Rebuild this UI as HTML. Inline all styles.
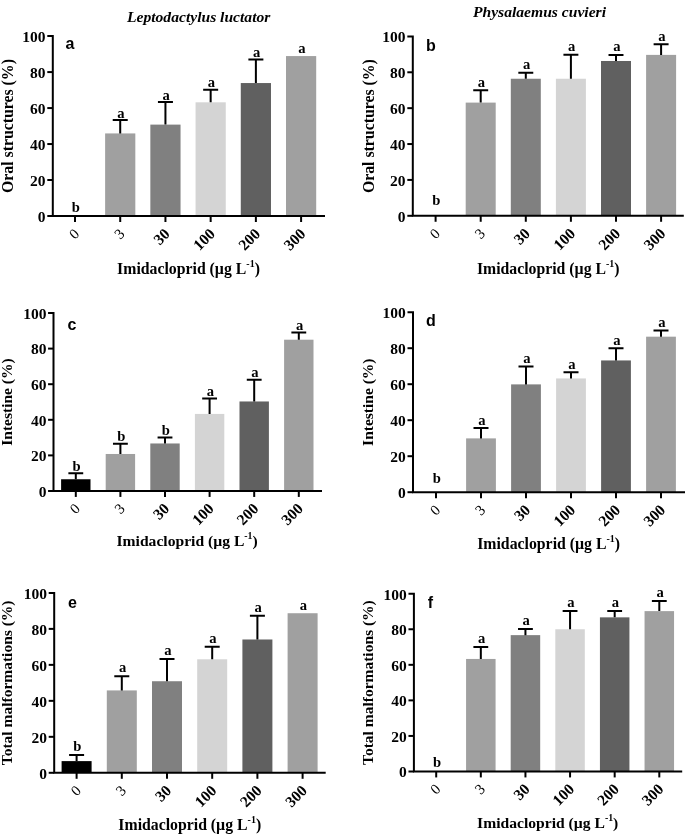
<!DOCTYPE html>
<html><head><meta charset="utf-8"><style>
html,body{margin:0;padding:0;background:#fff;}
svg{display:block;will-change:transform;filter:blur(0.35px);}
.tl{font-family:'Liberation Serif', serif;font-weight:bold;font-size:15.5px;}
.tr{font-family:'Liberation Serif', serif;font-weight:normal;font-size:14.8px;}
.sl{font-family:'Liberation Serif', serif;font-weight:bold;font-size:14.6px;}
.ti{font-family:'Liberation Serif', serif;font-weight:bold;font-style:italic;font-size:15.6px;}
.pl{font-family:'Liberation Sans', sans-serif;font-weight:bold;font-size:16px;}
</style></head><body>
<svg width="685" height="835" viewBox="0 0 685 835">
<rect width="685" height="835" fill="#fff"/>
<text x="127" y="21.8" class="ti">Leptodactylus luctator</text>
<text x="473" y="16.7" class="ti">Physalaemus cuvieri</text>
<text x="75.8" y="211.5" text-anchor="middle" class="sl">b</text>
<path d="M75 216V222" stroke="#000" stroke-width="2"/>
<text x="80.3" y="234.69" text-anchor="end" class="tr" transform="rotate(-45 80.3 234.69)">0</text>
<rect x="105.12" y="133.43" width="30.2" height="82.57" fill="#a0a0a0"/>
<path d="M120.22 133.43V119.93M112.72 119.93H127.72" stroke="#000" stroke-width="2" fill="none"/>
<text x="121.02" y="117.63" text-anchor="middle" class="sl">a</text>
<path d="M120.22 216V222" stroke="#000" stroke-width="2"/>
<text x="125.52" y="234.69" text-anchor="end" class="tr" transform="rotate(-45 125.52 234.69)">3</text>
<rect x="150.34" y="124.61" width="30.2" height="91.39" fill="#808080"/>
<path d="M165.44 124.61V102.12M157.94 102.12H172.94" stroke="#000" stroke-width="2" fill="none"/>
<text x="166.24" y="99.82" text-anchor="middle" class="sl">a</text>
<path d="M165.44 216V222" stroke="#000" stroke-width="2"/>
<text x="170.74" y="234.69" text-anchor="end" class="tl" transform="rotate(-45 170.74 234.69)">30</text>
<rect x="195.56" y="102.3" width="30.2" height="113.7" fill="#d4d4d4"/>
<path d="M210.66 102.3V89.71M203.16 89.71H218.16" stroke="#000" stroke-width="2" fill="none"/>
<text x="211.46" y="87.41" text-anchor="middle" class="sl">a</text>
<path d="M210.66 216V222" stroke="#000" stroke-width="2"/>
<text x="215.96" y="234.69" text-anchor="end" class="tl" transform="rotate(-45 215.96 234.69)">100</text>
<rect x="240.78" y="83.05" width="30.2" height="132.95" fill="#606060"/>
<path d="M255.88 83.05V59.49M248.38 59.49H263.38" stroke="#000" stroke-width="2" fill="none"/>
<text x="256.68" y="57.19" text-anchor="middle" class="sl">a</text>
<path d="M255.88 216V222" stroke="#000" stroke-width="2"/>
<text x="261.18" y="234.69" text-anchor="end" class="tl" transform="rotate(-45 261.18 234.69)">200</text>
<rect x="286" y="56.07" width="30.2" height="159.93" fill="#a0a0a0"/>
<text x="301.9" y="52.57" text-anchor="middle" class="sl">a</text>
<path d="M301.1 216V222" stroke="#000" stroke-width="2"/>
<text x="306.4" y="234.69" text-anchor="end" class="tl" transform="rotate(-45 306.4 234.69)">300</text>
<path d="M47.3 36.1H52.8V216H325" stroke="#000" stroke-width="2" fill="none" stroke-linejoin="miter"/>
<path d="M47.3 216H52.8" stroke="#000" stroke-width="2"/>
<text x="45.6" y="221.8" text-anchor="end" class="tl">0</text>
<path d="M47.3 180.02H52.8" stroke="#000" stroke-width="2"/>
<text x="45.6" y="185.82" text-anchor="end" class="tl">20</text>
<path d="M47.3 144.04H52.8" stroke="#000" stroke-width="2"/>
<text x="45.6" y="149.84" text-anchor="end" class="tl">40</text>
<path d="M47.3 108.06H52.8" stroke="#000" stroke-width="2"/>
<text x="45.6" y="113.86" text-anchor="end" class="tl">60</text>
<path d="M47.3 72.08H52.8" stroke="#000" stroke-width="2"/>
<text x="45.6" y="77.88" text-anchor="end" class="tl">80</text>
<text x="45.6" y="41.9" text-anchor="end" class="tl">100</text>
<text x="13.5" y="126.05" text-anchor="middle" class="tl" style="font-size:15.8px" transform="rotate(-90 13.5 126.05)">Oral structures (%)</text>
<text x="188.5" y="273.7" text-anchor="middle" class="tl" style="font-size:15.79px">Imidacloprid (µg L<tspan dy="-7" font-size="9.99">-1</tspan><tspan dy="7">)</tspan></text>
<text x="65.5" y="48.7" class="pl">a</text>
<text x="436.4" y="205.1" text-anchor="middle" class="sl">b</text>
<path d="M435.6 215.8V221.78" stroke="#000" stroke-width="2"/>
<text x="440.88" y="234.44" text-anchor="end" class="tr" transform="rotate(-45 440.88 234.44)">0</text>
<rect x="465.7" y="102.6" width="30" height="113.2" fill="#a0a0a0"/>
<path d="M480.7 102.6V90.22M473.23 90.22H488.18" stroke="#000" stroke-width="2" fill="none"/>
<text x="481.5" y="86.72" text-anchor="middle" class="sl">a</text>
<path d="M480.7 215.8V221.78" stroke="#000" stroke-width="2"/>
<text x="485.98" y="234.44" text-anchor="end" class="tr" transform="rotate(-45 485.98 234.44)">3</text>
<rect x="510.8" y="78.74" width="30" height="137.06" fill="#808080"/>
<path d="M525.8 78.74V72.64M518.33 72.64H533.28" stroke="#000" stroke-width="2" fill="none"/>
<text x="526.6" y="69.14" text-anchor="middle" class="sl">a</text>
<path d="M525.8 215.8V221.78" stroke="#000" stroke-width="2"/>
<text x="531.08" y="234.44" text-anchor="end" class="tl" transform="rotate(-45 531.08 234.44)">30</text>
<rect x="555.9" y="78.74" width="30" height="137.06" fill="#d4d4d4"/>
<path d="M570.9 78.74V54.7M563.43 54.7H578.38" stroke="#000" stroke-width="2" fill="none"/>
<text x="571.7" y="51.2" text-anchor="middle" class="sl">a</text>
<path d="M570.9 215.8V221.78" stroke="#000" stroke-width="2"/>
<text x="576.18" y="234.44" text-anchor="end" class="tl" transform="rotate(-45 576.18 234.44)">100</text>
<rect x="601" y="60.98" width="30" height="154.82" fill="#606060"/>
<path d="M616 60.98V54.88M608.52 54.88H623.48" stroke="#000" stroke-width="2" fill="none"/>
<text x="616.8" y="51.38" text-anchor="middle" class="sl">a</text>
<path d="M616 215.8V221.78" stroke="#000" stroke-width="2"/>
<text x="621.28" y="234.44" text-anchor="end" class="tl" transform="rotate(-45 621.28 234.44)">200</text>
<rect x="646.1" y="54.88" width="30" height="160.92" fill="#a0a0a0"/>
<path d="M661.1 54.88V44.29M653.62 44.29H668.58" stroke="#000" stroke-width="2" fill="none"/>
<text x="661.9" y="40.79" text-anchor="middle" class="sl">a</text>
<path d="M661.1 215.8V221.78" stroke="#000" stroke-width="2"/>
<text x="666.38" y="234.44" text-anchor="end" class="tl" transform="rotate(-45 666.38 234.44)">300</text>
<path d="M407.32 36.4H412.8V215.8H683.8" stroke="#000" stroke-width="2" fill="none" stroke-linejoin="miter"/>
<path d="M407.32 215.8H412.8" stroke="#000" stroke-width="2"/>
<text x="405.62" y="221.6" text-anchor="end" class="tl">0</text>
<path d="M407.32 179.92H412.8" stroke="#000" stroke-width="2"/>
<text x="405.62" y="185.72" text-anchor="end" class="tl">20</text>
<path d="M407.32 144.04H412.8" stroke="#000" stroke-width="2"/>
<text x="405.62" y="149.84" text-anchor="end" class="tl">40</text>
<path d="M407.32 108.16H412.8" stroke="#000" stroke-width="2"/>
<text x="405.62" y="113.96" text-anchor="end" class="tl">60</text>
<path d="M407.32 72.28H412.8" stroke="#000" stroke-width="2"/>
<text x="405.62" y="78.08" text-anchor="end" class="tl">80</text>
<text x="405.62" y="42.2" text-anchor="end" class="tl">100</text>
<text x="373.8" y="126.1" text-anchor="middle" class="tl" style="font-size:15.8px" transform="rotate(-90 373.8 126.1)">Oral structures (%)</text>
<text x="548.25" y="274.3" text-anchor="middle" class="tl" style="font-size:15.75px">Imidacloprid (µg L<tspan dy="-7" font-size="9.97">-1</tspan><tspan dy="7">)</tspan></text>
<text x="426.1" y="51.4" class="pl">b</text>
<rect x="61.1" y="479.25" width="29.4" height="11.75" fill="#000000"/>
<path d="M75.8 479.25V473.2M68.38 473.2H83.22" stroke="#000" stroke-width="2" fill="none"/>
<text x="76.6" y="470.7" text-anchor="middle" class="sl">b</text>
<path d="M75.8 491V496.93" stroke="#000" stroke-width="2"/>
<text x="81.04" y="509.49" text-anchor="end" class="tr" transform="rotate(-45 81.04 509.49)">0</text>
<rect x="105.7" y="453.98" width="29.4" height="37.02" fill="#a0a0a0"/>
<path d="M120.4 453.98V443.83M112.98 443.83H127.82" stroke="#000" stroke-width="2" fill="none"/>
<text x="121.2" y="441.33" text-anchor="middle" class="sl">b</text>
<path d="M120.4 491V496.93" stroke="#000" stroke-width="2"/>
<text x="125.64" y="509.49" text-anchor="end" class="tr" transform="rotate(-45 125.64 509.49)">3</text>
<rect x="150.3" y="443.47" width="29.4" height="47.53" fill="#808080"/>
<path d="M165 443.47V437.6M157.58 437.6H172.42" stroke="#000" stroke-width="2" fill="none"/>
<text x="165.8" y="435.1" text-anchor="middle" class="sl">b</text>
<path d="M165 491V496.93" stroke="#000" stroke-width="2"/>
<text x="170.24" y="509.49" text-anchor="end" class="tl" transform="rotate(-45 170.24 509.49)">30</text>
<rect x="194.9" y="413.93" width="29.4" height="77.07" fill="#d4d4d4"/>
<path d="M209.6 413.93V398.44M202.18 398.44H217.02" stroke="#000" stroke-width="2" fill="none"/>
<text x="210.4" y="395.94" text-anchor="middle" class="sl">a</text>
<path d="M209.6 491V496.93" stroke="#000" stroke-width="2"/>
<text x="214.84" y="509.49" text-anchor="end" class="tl" transform="rotate(-45 214.84 509.49)">100</text>
<rect x="239.5" y="401.47" width="29.4" height="89.53" fill="#606060"/>
<path d="M254.2 401.47V379.75M246.78 379.75H261.62" stroke="#000" stroke-width="2" fill="none"/>
<text x="255" y="377.25" text-anchor="middle" class="sl">a</text>
<path d="M254.2 491V496.93" stroke="#000" stroke-width="2"/>
<text x="259.44" y="509.49" text-anchor="end" class="tl" transform="rotate(-45 259.44 509.49)">200</text>
<rect x="284.1" y="339.7" width="29.4" height="151.3" fill="#a0a0a0"/>
<path d="M298.8 339.7V332.58M291.38 332.58H306.22" stroke="#000" stroke-width="2" fill="none"/>
<text x="299.6" y="330.08" text-anchor="middle" class="sl">a</text>
<path d="M298.8 491V496.93" stroke="#000" stroke-width="2"/>
<text x="304.04" y="509.49" text-anchor="end" class="tl" transform="rotate(-45 304.04 509.49)">300</text>
<path d="M48.06 313H53.5V491H322" stroke="#000" stroke-width="2" fill="none" stroke-linejoin="miter"/>
<path d="M48.06 491H53.5" stroke="#000" stroke-width="2"/>
<text x="46.38" y="496.8" text-anchor="end" class="tl">0</text>
<path d="M48.06 455.4H53.5" stroke="#000" stroke-width="2"/>
<text x="46.38" y="461.2" text-anchor="end" class="tl">20</text>
<path d="M48.06 419.8H53.5" stroke="#000" stroke-width="2"/>
<text x="46.38" y="425.6" text-anchor="end" class="tl">40</text>
<path d="M48.06 384.2H53.5" stroke="#000" stroke-width="2"/>
<text x="46.38" y="390" text-anchor="end" class="tl">60</text>
<path d="M48.06 348.6H53.5" stroke="#000" stroke-width="2"/>
<text x="46.38" y="354.4" text-anchor="end" class="tl">80</text>
<text x="46.38" y="318.8" text-anchor="end" class="tl">100</text>
<text x="12.4" y="402" text-anchor="middle" class="tl" style="font-size:15.5px" transform="rotate(-90 12.4 402)">Intestine (%)</text>
<text x="187.15" y="545.5" text-anchor="middle" class="tl" style="font-size:15.62px">Imidacloprid (µg L<tspan dy="-7" font-size="9.89">-1</tspan><tspan dy="7">)</tspan></text>
<text x="67.5" y="329.65" class="pl">c</text>
<text x="436.8" y="483.3" text-anchor="middle" class="sl">b</text>
<path d="M436 492.2V498.2" stroke="#000" stroke-width="2"/>
<text x="441.3" y="510.9" text-anchor="end" class="tr" transform="rotate(-45 441.3 510.9)">0</text>
<rect x="466.1" y="438.38" width="29.8" height="53.82" fill="#a0a0a0"/>
<path d="M481 438.38V427.94M473.5 427.94H488.5" stroke="#000" stroke-width="2" fill="none"/>
<text x="481.8" y="424.84" text-anchor="middle" class="sl">a</text>
<path d="M481 492.2V498.2" stroke="#000" stroke-width="2"/>
<text x="486.3" y="510.9" text-anchor="end" class="tr" transform="rotate(-45 486.3 510.9)">3</text>
<rect x="511.1" y="384.38" width="29.8" height="107.82" fill="#808080"/>
<path d="M526 384.38V366.38M518.5 366.38H533.5" stroke="#000" stroke-width="2" fill="none"/>
<text x="526.8" y="363.28" text-anchor="middle" class="sl">a</text>
<path d="M526 492.2V498.2" stroke="#000" stroke-width="2"/>
<text x="531.3" y="510.9" text-anchor="end" class="tl" transform="rotate(-45 531.3 510.9)">30</text>
<rect x="556.1" y="378.44" width="29.8" height="113.76" fill="#d4d4d4"/>
<path d="M571 378.44V372.32M563.5 372.32H578.5" stroke="#000" stroke-width="2" fill="none"/>
<text x="571.8" y="369.22" text-anchor="middle" class="sl">a</text>
<path d="M571 492.2V498.2" stroke="#000" stroke-width="2"/>
<text x="576.3" y="510.9" text-anchor="end" class="tl" transform="rotate(-45 576.3 510.9)">100</text>
<rect x="601.1" y="360.44" width="29.8" height="131.76" fill="#606060"/>
<path d="M616 360.44V348.2M608.5 348.2H623.5" stroke="#000" stroke-width="2" fill="none"/>
<text x="616.8" y="345.1" text-anchor="middle" class="sl">a</text>
<path d="M616 492.2V498.2" stroke="#000" stroke-width="2"/>
<text x="621.3" y="510.9" text-anchor="end" class="tl" transform="rotate(-45 621.3 510.9)">200</text>
<rect x="646.1" y="336.68" width="29.8" height="155.52" fill="#a0a0a0"/>
<path d="M661 336.68V330.38M653.5 330.38H668.5" stroke="#000" stroke-width="2" fill="none"/>
<text x="661.8" y="327.28" text-anchor="middle" class="sl">a</text>
<path d="M661 492.2V498.2" stroke="#000" stroke-width="2"/>
<text x="666.3" y="510.9" text-anchor="end" class="tl" transform="rotate(-45 666.3 510.9)">300</text>
<path d="M407.5 312.2H413V492.2H685" stroke="#000" stroke-width="2" fill="none" stroke-linejoin="miter"/>
<path d="M407.5 492.2H413" stroke="#000" stroke-width="2"/>
<text x="405.8" y="498" text-anchor="end" class="tl">0</text>
<path d="M407.5 456.2H413" stroke="#000" stroke-width="2"/>
<text x="405.8" y="462" text-anchor="end" class="tl">20</text>
<path d="M407.5 420.2H413" stroke="#000" stroke-width="2"/>
<text x="405.8" y="426" text-anchor="end" class="tl">40</text>
<path d="M407.5 384.2H413" stroke="#000" stroke-width="2"/>
<text x="405.8" y="390" text-anchor="end" class="tl">60</text>
<path d="M407.5 348.2H413" stroke="#000" stroke-width="2"/>
<text x="405.8" y="354" text-anchor="end" class="tl">80</text>
<text x="405.8" y="318" text-anchor="end" class="tl">100</text>
<text x="373.5" y="402.2" text-anchor="middle" class="tl" style="font-size:15.5px" transform="rotate(-90 373.5 402.2)">Intestine (%)</text>
<text x="548.65" y="548.7" text-anchor="middle" class="tl" style="font-size:15.8px">Imidacloprid (µg L<tspan dy="-7" font-size="10">-1</tspan><tspan dy="7">)</tspan></text>
<text x="425.95" y="325.9" class="pl">d</text>
<rect x="61.6" y="761.11" width="30" height="11.69" fill="#000000"/>
<path d="M76.6 761.11V754.99M69.1 754.99H84.1" stroke="#000" stroke-width="2" fill="none"/>
<text x="77.4" y="751.29" text-anchor="middle" class="sl">b</text>
<path d="M76.6 772.8V778.8" stroke="#000" stroke-width="2"/>
<text x="81.9" y="791.49" text-anchor="end" class="tr" transform="rotate(-45 81.9 791.49)">0</text>
<rect x="106.8" y="690.41" width="30" height="82.39" fill="#a0a0a0"/>
<path d="M121.8 690.41V676.19M114.3 676.19H129.3" stroke="#000" stroke-width="2" fill="none"/>
<text x="122.6" y="672.49" text-anchor="middle" class="sl">a</text>
<path d="M121.8 772.8V778.8" stroke="#000" stroke-width="2"/>
<text x="127.1" y="791.49" text-anchor="end" class="tr" transform="rotate(-45 127.1 791.49)">3</text>
<rect x="152" y="681.23" width="30" height="91.57" fill="#808080"/>
<path d="M167 681.23V658.92M159.5 658.92H174.5" stroke="#000" stroke-width="2" fill="none"/>
<text x="167.8" y="655.22" text-anchor="middle" class="sl">a</text>
<path d="M167 772.8V778.8" stroke="#000" stroke-width="2"/>
<text x="172.3" y="791.49" text-anchor="end" class="tl" transform="rotate(-45 172.3 791.49)">30</text>
<rect x="197.2" y="659.28" width="30" height="113.52" fill="#d4d4d4"/>
<path d="M212.2 659.28V646.87M204.7 646.87H219.7" stroke="#000" stroke-width="2" fill="none"/>
<text x="213" y="643.17" text-anchor="middle" class="sl">a</text>
<path d="M212.2 772.8V778.8" stroke="#000" stroke-width="2"/>
<text x="217.5" y="791.49" text-anchor="end" class="tl" transform="rotate(-45 217.5 791.49)">100</text>
<rect x="242.4" y="639.49" width="30" height="133.31" fill="#606060"/>
<path d="M257.4 639.49V615.75M249.9 615.75H264.9" stroke="#000" stroke-width="2" fill="none"/>
<text x="258.2" y="612.05" text-anchor="middle" class="sl">a</text>
<path d="M257.4 772.8V778.8" stroke="#000" stroke-width="2"/>
<text x="262.7" y="791.49" text-anchor="end" class="tl" transform="rotate(-45 262.7 791.49)">200</text>
<rect x="287.6" y="613.23" width="30" height="159.57" fill="#a0a0a0"/>
<text x="303.4" y="609.73" text-anchor="middle" class="sl">a</text>
<path d="M302.6 772.8V778.8" stroke="#000" stroke-width="2"/>
<text x="307.9" y="791.49" text-anchor="end" class="tl" transform="rotate(-45 307.9 791.49)">300</text>
<path d="M48.7 592.9H54.2V772.8H325.7" stroke="#000" stroke-width="2" fill="none" stroke-linejoin="miter"/>
<path d="M48.7 772.8H54.2" stroke="#000" stroke-width="2"/>
<text x="47" y="778.6" text-anchor="end" class="tl">0</text>
<path d="M48.7 736.82H54.2" stroke="#000" stroke-width="2"/>
<text x="47" y="742.62" text-anchor="end" class="tl">20</text>
<path d="M48.7 700.84H54.2" stroke="#000" stroke-width="2"/>
<text x="47" y="706.64" text-anchor="end" class="tl">40</text>
<path d="M48.7 664.86H54.2" stroke="#000" stroke-width="2"/>
<text x="47" y="670.66" text-anchor="end" class="tl">60</text>
<path d="M48.7 628.88H54.2" stroke="#000" stroke-width="2"/>
<text x="47" y="634.68" text-anchor="end" class="tl">80</text>
<text x="47" y="598.7" text-anchor="end" class="tl">100</text>
<text x="12.2" y="682.85" text-anchor="middle" class="tl" style="font-size:15.5px" transform="rotate(-90 12.2 682.85)">Total malformations (%)</text>
<text x="189.75" y="830" text-anchor="middle" class="tl" style="font-size:15.79px">Imidacloprid (µg L<tspan dy="-7" font-size="9.99">-1</tspan><tspan dy="7">)</tspan></text>
<text x="67.9" y="607.75" class="pl">e</text>
<text x="437" y="766.8" text-anchor="middle" class="sl">b</text>
<path d="M436.2 771.5V777.43" stroke="#000" stroke-width="2"/>
<text x="441.44" y="789.97" text-anchor="end" class="tr" transform="rotate(-45 441.44 789.97)">0</text>
<rect x="466.07" y="658.95" width="29.5" height="112.55" fill="#a0a0a0"/>
<path d="M480.82 658.95V647.04M473.41 647.04H488.23" stroke="#000" stroke-width="2" fill="none"/>
<text x="481.62" y="643.34" text-anchor="middle" class="sl">a</text>
<path d="M480.82 771.5V777.43" stroke="#000" stroke-width="2"/>
<text x="486.06" y="789.97" text-anchor="end" class="tr" transform="rotate(-45 486.06 789.97)">3</text>
<rect x="510.69" y="635.13" width="29.5" height="136.37" fill="#808080"/>
<path d="M525.44 635.13V629.08M518.03 629.08H532.85" stroke="#000" stroke-width="2" fill="none"/>
<text x="526.24" y="625.38" text-anchor="middle" class="sl">a</text>
<path d="M525.44 771.5V777.43" stroke="#000" stroke-width="2"/>
<text x="530.68" y="789.97" text-anchor="end" class="tl" transform="rotate(-45 530.68 789.97)">30</text>
<rect x="555.31" y="629.26" width="29.5" height="142.24" fill="#d4d4d4"/>
<path d="M570.06 629.26V611.12M562.65 611.12H577.47" stroke="#000" stroke-width="2" fill="none"/>
<text x="570.86" y="607.42" text-anchor="middle" class="sl">a</text>
<path d="M570.06 771.5V777.43" stroke="#000" stroke-width="2"/>
<text x="575.3" y="789.97" text-anchor="end" class="tl" transform="rotate(-45 575.3 789.97)">100</text>
<rect x="599.93" y="617.35" width="29.5" height="154.15" fill="#606060"/>
<path d="M614.68 617.35V610.95M607.27 610.95H622.09" stroke="#000" stroke-width="2" fill="none"/>
<text x="615.48" y="607.25" text-anchor="middle" class="sl">a</text>
<path d="M614.68 771.5V777.43" stroke="#000" stroke-width="2"/>
<text x="619.92" y="789.97" text-anchor="end" class="tl" transform="rotate(-45 619.92 789.97)">200</text>
<rect x="644.55" y="611.12" width="29.5" height="160.38" fill="#a0a0a0"/>
<path d="M659.3 611.12V600.99M651.89 600.99H666.71" stroke="#000" stroke-width="2" fill="none"/>
<text x="660.1" y="597.29" text-anchor="middle" class="sl">a</text>
<path d="M659.3 771.5V777.43" stroke="#000" stroke-width="2"/>
<text x="664.54" y="789.97" text-anchor="end" class="tl" transform="rotate(-45 664.54 789.97)">300</text>
<path d="M408.47 593.7H413.9V771.5H682.2" stroke="#000" stroke-width="2" fill="none" stroke-linejoin="miter"/>
<path d="M408.47 771.5H413.9" stroke="#000" stroke-width="2"/>
<text x="406.79" y="777.3" text-anchor="end" class="tl">0</text>
<path d="M408.47 735.94H413.9" stroke="#000" stroke-width="2"/>
<text x="406.79" y="741.74" text-anchor="end" class="tl">20</text>
<path d="M408.47 700.38H413.9" stroke="#000" stroke-width="2"/>
<text x="406.79" y="706.18" text-anchor="end" class="tl">40</text>
<path d="M408.47 664.82H413.9" stroke="#000" stroke-width="2"/>
<text x="406.79" y="670.62" text-anchor="end" class="tl">60</text>
<path d="M408.47 629.26H413.9" stroke="#000" stroke-width="2"/>
<text x="406.79" y="635.06" text-anchor="end" class="tl">80</text>
<text x="406.79" y="599.5" text-anchor="end" class="tl">100</text>
<text x="373.4" y="682.6" text-anchor="middle" class="tl" style="font-size:15.5px" transform="rotate(-90 373.4 682.6)">Total malformations (%)</text>
<text x="547.7" y="828.4" text-anchor="middle" class="tl" style="font-size:15.61px">Imidacloprid (µg L<tspan dy="-7" font-size="9.88">-1</tspan><tspan dy="7">)</tspan></text>
<text x="427.85" y="607.75" class="pl">f</text>
</svg>
</body></html>
